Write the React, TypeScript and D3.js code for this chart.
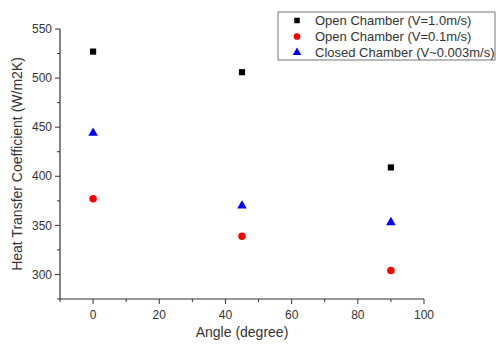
import { useEffect, useRef } from 'react'
import * as d3 from 'd3'

const angles = [0, 45, 90]
const open10 = [527, 506, 409]
const open01 = [377, 339, 304]
const closed = [444, 370, 353]

const seriesNames = [
  'Open Chamber (V=1.0m/s)',
  'Open Chamber (V=0.1m/s)',
  'Closed Chamber (V~0.003m/s)',
]
const seriesColors = ['#000000', '#ff0000', '#0000ff']
const seriesShapes = [d3.symbolSquare, d3.symbolCircle, d3.symbolTriangle]
const seriesSizes = [38, 44, 40]

const xTicks = [0, 20, 40, 60, 80, 100]
const yTicks = [300, 350, 400, 450, 500, 550]

export default function App() {
  const svgRef = useRef<SVGSVGElement>(null)

  useEffect(() => {
    if (!svgRef.current) return
    const svg = d3.select(svgRef.current)
    svg.selectAll('*').remove()

    const width = 496
    const height = 345
    const left = 60, right = 424, top = 29, bottom = 299
    const font = "'Liberation Sans', Arial, sans-serif"

    const x = d3.scaleLinear().domain([-10, 100]).range([left, right])
    const y = d3.scaleLinear().domain([275, 550]).range([bottom, top])

    svg.append('rect').attr('width', width).attr('height', height).attr('fill', '#fff')

    // x axis
    const xg = svg.append('g').attr('transform', `translate(0,${bottom})`)
    xg.append('line').attr('x1', left).attr('x2', right).attr('stroke', '#333').attr('stroke-width', 1.2)
    d3.range(-10, 101, 10).forEach(v => {
      const major = xTicks.includes(v)
      xg.append('line')
        .attr('x1', x(v)).attr('x2', x(v))
        .attr('y1', 0).attr('y2', major ? 5 : 3)
        .attr('stroke', '#333').attr('stroke-width', 1)
    })
    xg.selectAll('text.tick')
      .data(xTicks)
      .enter()
      .append('text')
      .attr('x', d => x(d))
      .attr('y', 20)
      .attr('text-anchor', 'middle')
      .attr('font-size', 12)
      .attr('font-family', font)
      .attr('fill', '#333')
      .text(d => d)

    // y axis
    const yg = svg.append('g').attr('transform', `translate(${left},0)`)
    yg.append('line').attr('y1', top).attr('y2', bottom).attr('stroke', '#333').attr('stroke-width', 1.2)
    d3.range(275, 551, 25).forEach(v => {
      const major = yTicks.includes(v)
      yg.append('line')
        .attr('y1', y(v)).attr('y2', y(v))
        .attr('x1', 0).attr('x2', major ? -5 : -3)
        .attr('stroke', '#333').attr('stroke-width', 1)
    })
    yg.selectAll('text.tick')
      .data(yTicks)
      .enter()
      .append('text')
      .attr('x', -8)
      .attr('y', d => y(d))
      .attr('dy', '0.35em')
      .attr('text-anchor', 'end')
      .attr('font-size', 12)
      .attr('font-family', font)
      .attr('fill', '#333')
      .text(d => d)

    // axis titles
    svg.append('text')
      .attr('x', (left + right) / 2)
      .attr('y', 337)
      .attr('text-anchor', 'middle')
      .attr('font-size', 14)
      .attr('font-family', font)
      .attr('fill', '#333')
      .text('Angle (degree)')
    svg.append('text')
      .attr('transform', `translate(22,${(top + bottom) / 2}) rotate(-90)`)
      .attr('text-anchor', 'middle')
      .attr('font-size', 14)
      .attr('font-family', font)
      .attr('fill', '#333')
      .text('Heat Transfer Coefficient (W/m2K)')

    // points
    const allSeries = [open10, open01, closed]
    allSeries.forEach((vals, i) => {
      const sym = d3.symbol().type(seriesShapes[i]).size(seriesSizes[i])
      svg.append('g')
        .selectAll('path')
        .data(vals)
        .enter()
        .append('path')
        .attr('d', sym)
        .attr('transform', (d, j) => `translate(${x(angles[j])},${y(d)})`)
        .attr('fill', seriesColors[i])
    })

    // legend
    const lg = svg.append('g').attr('transform', 'translate(278,12)')
    lg.append('rect')
      .attr('width', 217).attr('height', 48)
      .attr('fill', '#fff').attr('stroke', '#777').attr('stroke-width', 1)
    seriesNames.forEach((name, i) => {
      const yy = 8.5 + i * 16
      const sym = d3.symbol().type(seriesShapes[i]).size(seriesSizes[i] * 0.8)
      lg.append('path')
        .attr('d', sym)
        .attr('transform', `translate(19,${yy})`)
        .attr('fill', seriesColors[i])
      lg.append('text')
        .attr('x', 37)
        .attr('y', yy)
        .attr('dy', '0.35em')
        .attr('font-size', 13)
        .attr('font-family', font)
        .attr('fill', '#333')
        .text(name)
    })
  }, [])

  return (
    <svg ref={svgRef} width={496} height={345} style={{ display: 'block', position: 'absolute', left: 0, top: 0 }} />
  )
}
